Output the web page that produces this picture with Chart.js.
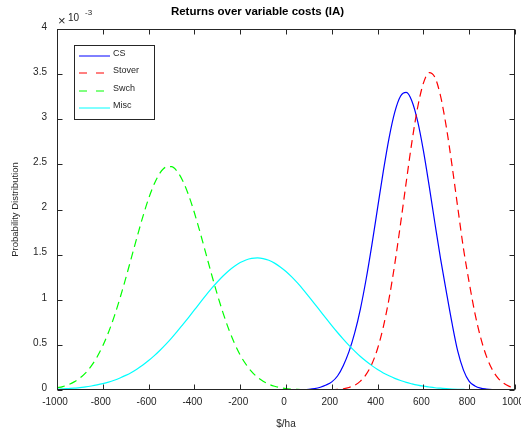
<!DOCTYPE html>
<html lang="en">
<head>
<meta charset="UTF-8">
<title>Returns over variable costs (IA)</title>
<style>
    body {
        margin: 0;
        background-color: #ffffff;
    }
    .chart-box {
        position: relative;
        width: 521px;
        height: 435px;
    }
</style>
</head>
<body>
<div class="chart-box"><canvas id="returnsChart"></canvas></div>

<script src="https://cdn.jsdelivr.net/npm/chart.js@4"></script>
<script>
// returns grid, $/ha
const returns = [-1000, -975, -950, -925, -900, -875, -850, -825, -800, -775, -750, -725, -700, -675, -650, -625, -600, -575, -550, -525,
    -500, -475, -450, -425, -400, -375, -350, -325, -300, -275, -250, -225, -200, -175, -150, -125, -100, -75, -50, -25,
    0, 25, 50, 75, 100, 125, 150, 175, 200, 225, 250, 275, 300, 325, 350, 375, 400, 425, 450, 475,
    500, 525, 550, 575, 600, 625, 650, 675, 700, 725, 750, 775, 800, 825, 850, 875, 900, 925, 950, 975, 1000];

// densities, in units of 1e-3
const csDensity = [0, 0, 0, 0, 0, 0, 0, 0, 0, 0, 0, 0, 0, 0, 0, 0, 0, 0, 0, 0,
    0, 0, 0, 0, 0, 0, 0, 0, 0, 0, 0, 0, 0, 0, 0, 0, 0, 0, 0, 0,
    0, 0.001, 0.002, 0.004, 0.008, 0.016, 0.031, 0.055, 0.09, 0.155, 0.27, 0.425, 0.632, 0.90, 1.23, 1.609, 2.018, 2.425, 2.792, 3.079,
    3.255, 3.297, 3.20, 2.976, 2.652, 2.264, 1.853, 1.453, 1.09, 0.74, 0.43, 0.22, 0.095, 0.045, 0.02, 0.01, 0.004, 0.001, 0, 0, 0];

const stoverDensity = [0, 0, 0, 0, 0, 0, 0, 0, 0, 0, 0, 0, 0, 0, 0, 0, 0, 0, 0, 0,
    0, 0, 0, 0, 0, 0, 0, 0, 0, 0, 0, 0, 0, 0, 0, 0, 0, 0, 0, 0,
    0, 0, 0, 0, 0, 0, 0, 0.001, 0.002, 0.006, 0.014, 0.028, 0.053, 0.098, 0.173, 0.288, 0.46, 0.699, 1.012, 1.396,
    1.838, 2.303, 2.752, 3.133, 3.40, 3.517, 3.466, 3.256, 2.915, 2.488, 2.023, 1.567, 1.19, 0.85, 0.58, 0.375, 0.23, 0.135, 0.075, 0.04, 0.02];

const swchDensity = [0.024, 0.038, 0.059, 0.090, 0.132, 0.190, 0.267, 0.366, 0.490, 0.640, 0.816, 1.017, 1.236, 1.467, 1.699, 1.921, 2.121, 2.286, 2.405, 2.469,
    2.475, 2.422, 2.314, 2.157, 1.964, 1.745, 1.514, 1.281, 1.059, 0.855, 0.673, 0.518, 0.388, 0.285, 0.204, 0.142, 0.097, 0.064, 0.042, 0.027,
    0.016, 0.01, 0.006, 0.003, 0.002, 0.001, 0, 0, 0, 0, 0, 0, 0, 0, 0, 0, 0, 0, 0, 0,
    0, 0, 0, 0, 0, 0, 0, 0, 0, 0, 0, 0, 0, 0, 0, 0, 0, 0, 0, 0, 0];

const miscDensity = [0.009, 0.012, 0.016, 0.020, 0.027, 0.034, 0.044, 0.056, 0.070, 0.087, 0.108, 0.133, 0.162, 0.195, 0.234, 0.277, 0.326, 0.381, 0.441, 0.505,
    0.575, 0.649, 0.727, 0.806, 0.887, 0.968, 1.048, 1.125, 1.197, 1.263, 1.322, 1.372, 1.412, 1.441, 1.458, 1.463, 1.456, 1.437, 1.406, 1.364,
    1.313, 1.253, 1.186, 1.113, 1.035, 0.955, 0.874, 0.793, 0.714, 0.637, 0.564, 0.495, 0.431, 0.371, 0.318, 0.270, 0.227, 0.189, 0.157, 0.129,
    0.105, 0.084, 0.068, 0.054, 0.042, 0.033, 0.025, 0.020, 0.015, 0.011, 0.008, 0.006, 0.004, 0.003, 0.002, 0.0015, 0.001, 0.001, 0.0005, 0, 0];

const seriesNames = ['CS', 'Stover', 'Swch', 'Misc'];
const seriesColors = ['#0000ff', '#ff0000', '#00ff00', '#00ffff'];
const seriesDashes = [[], [8, 5], [8, 5], []];
const seriesValues = [csDensity, stoverDensity, swchDensity, miscDensity];

const FONT = '"Liberation Sans", Arial, Helvetica, sans-serif';
const AXIS_COLOR = '#262626';

// box, inward ticks on all sides, legend and the exponent label
const axesBox = {
    id: 'axesBox',
    afterDraw(chart) {
        const { ctx, chartArea: a, scales } = chart;
        const L = a.left + 0.5, R = a.right - 0.5, T = a.top + 0.5, B = a.bottom - 0.5;
        const tl = 5;
        ctx.save();
        ctx.strokeStyle = AXIS_COLOR;
        ctx.lineWidth = 1;
        ctx.setLineDash([]);
        ctx.strokeRect(L, T, R - L, B - T);

        ctx.beginPath();
        scales.x.ticks.forEach(t => {
            const px = Math.round(scales.x.getPixelForValue(t.value)) + 0.5;
            ctx.moveTo(px, B); ctx.lineTo(px, B - tl);
            ctx.moveTo(px, T); ctx.lineTo(px, T + tl);
        });
        scales.y.ticks.forEach(t => {
            const py = Math.round(scales.y.getPixelForValue(t.value)) + 0.5;
            ctx.moveTo(L, py); ctx.lineTo(L + tl, py);
            ctx.moveTo(R, py); ctx.lineTo(R - tl, py);
        });
        ctx.stroke();

        // exponent
        ctx.fillStyle = AXIS_COLOR;
        ctx.textAlign = 'left';
        ctx.textBaseline = 'alphabetic';
        ctx.font = '13px ' + FONT;
        ctx.fillText('\u00d7', 58, 25);
        ctx.font = '10px ' + FONT;
        ctx.fillText('10', 68, 21);
        ctx.font = '8px ' + FONT;
        ctx.fillText('-3', 85, 15);

        // legend
        const bx = 74.5, by = 45.5, bw = 80, bh = 74;
        ctx.fillStyle = '#ffffff';
        ctx.fillRect(bx, by, bw, bh);
        ctx.strokeStyle = AXIS_COLOR;
        ctx.strokeRect(bx, by, bw, bh);
        ctx.font = '9px ' + FONT;
        ctx.textBaseline = 'middle';
        chart.data.datasets.forEach((ds, i) => {
            const ly = Math.round(56 + i * 17.3);
            ctx.strokeStyle = ds.borderColor;
            ctx.setLineDash(ds.borderDash.length ? [8, 9] : []);
            ctx.beginPath();
            ctx.moveTo(79, ly);
            ctx.lineTo(110, ly);
            ctx.stroke();
            ctx.fillStyle = AXIS_COLOR;
            ctx.fillText(ds.label, 113, ly - 2);
        });
        ctx.restore();
    }
};

const datasets = seriesNames.map((name, s) => ({
    label: name,
    data: returns.map((x, i) => ({ x: x, y: seriesValues[s][i] })),
    borderColor: seriesColors[s],
    backgroundColor: seriesColors[s],
    borderWidth: 1.2,
    borderDash: seriesDashes[s],
    pointRadius: 0,
    fill: false,
    cubicInterpolationMode: 'monotone',
    order: seriesNames.length - s
}));

new Chart(document.getElementById('returnsChart').getContext('2d'), {
    type: 'line',
    data: { datasets: datasets },
    options: {
        responsive: true,
        maintainAspectRatio: false,
        animation: false,
        layout: { autoPadding: false, padding: { left: 0, right: 6, top: 0, bottom: 0 } },
        plugins: {
            legend: { display: false },
            tooltip: { enabled: false },
            title: {
                display: true,
                text: 'Returns over variable costs (IA)',
                color: '#000000',
                font: { family: FONT, size: 11.5, weight: 'bold', lineHeight: 1.2 },
                padding: { top: 5, bottom: 10.2 }
            }
        },
        scales: {
            x: {
                type: 'linear',
                min: -1000,
                max: 1000,
                grid: { display: false, drawTicks: false },
                border: { display: false },
                ticks: {
                    stepSize: 200,
                    padding: 6,
                    labelOffset: -2,
                    color: AXIS_COLOR,
                    font: { family: FONT, size: 10 },
                    maxRotation: 0,
                    autoSkip: false,
                    callback: v => String(v)
                },
                title: {
                    display: true,
                    text: '$/ha',
                    color: AXIS_COLOR,
                    font: { family: FONT, size: 10, lineHeight: 1.2 },
                    padding: { top: 0, bottom: 4.5 }
                },
                afterFit: scale => {
                    scale.height = 45;
                    // let the end labels run past the plot edges
                    scale.paddingLeft = 0;
                    scale.paddingRight = 0;
                }
            },
            y: {
                min: 0,
                max: 4,
                grid: { display: false, drawTicks: false },
                border: { display: false },
                ticks: {
                    stepSize: 0.5,
                    padding: 10,
                    labelOffset: -2,
                    color: AXIS_COLOR,
                    font: { family: FONT, size: 10 },
                    callback: v => String(v)
                },
                title: {
                    display: true,
                    text: 'Probability Distribution',
                    color: AXIS_COLOR,
                    font: { family: FONT, size: 9.5, lineHeight: 1.2 },
                    padding: { top: 10, bottom: 0 }
                },
                afterFit: scale => {
                    scale.width = 57;
                    scale.paddingTop = 0;
                    scale.paddingBottom = 0;
                }
            }
        }
    },
    plugins: [axesBox]
});
</script>
</body>
</html>
